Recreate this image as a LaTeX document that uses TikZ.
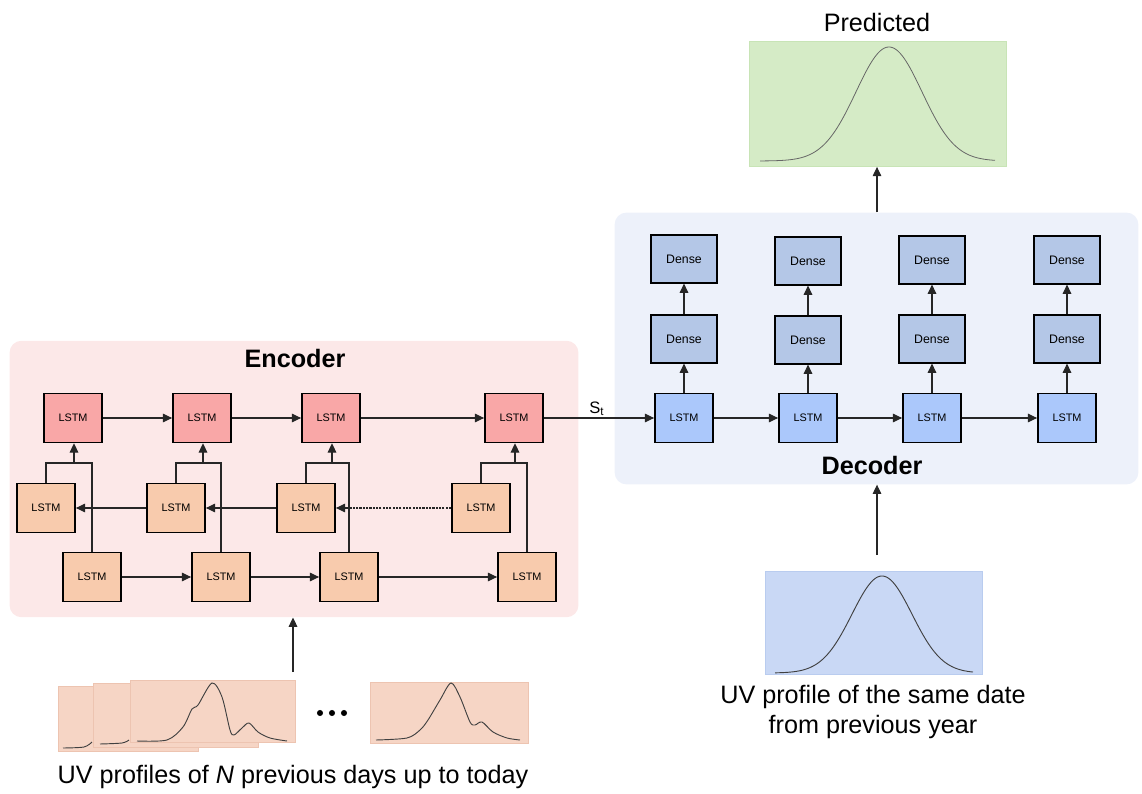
\documentclass[tikz,border=0pt]{standalone}
\usepackage{fontspec}
\setmainfont{Liberation Sans}
\usetikzlibrary{arrows.meta,backgrounds,positioning}
\definecolor{encbg}{HTML}{FCE8E8}
\definecolor{encred}{HTML}{F9A7A7}
\definecolor{encorange}{HTML}{F8CBAD}
\definecolor{decbg}{HTML}{EDF1FA}
\definecolor{declstm}{HTML}{ABC8FB}
\definecolor{densebl}{HTML}{B4C7E7}
\definecolor{predgreen}{HTML}{D5EBC6}
\definecolor{predline}{HTML}{C8E4B6}
\definecolor{samebl}{HTML}{C9D8F5}
\definecolor{sameline}{HTML}{B9CCEF}
\definecolor{cardfill}{HTML}{F6D5C5}
\definecolor{carddraw}{HTML}{EDC4B1}

\begin{document}
\begin{tikzpicture}[x=0.0265cm,y=-0.0265cm,
  >={Triangle[length=7pt,width=6.5pt]},
  panel/.style={rectangle,rounded corners=9pt,draw=none},
  lstm/.style={draw,line width=1.1pt,minimum width=44pt,minimum height=37pt,inner sep=0pt,font=\fontsize{8.2}{10}\selectfont},
  dense/.style={draw,line width=1.1pt,fill=densebl,minimum width=50pt,minimum height=36pt,inner sep=0pt,font=\fontsize{9.3}{11}\selectfont},
  link/.style={->,line width=0.8pt,draw=black!85},
  wire/.style={line width=0.8pt,draw=black!85},
  card/.style={fill=cardfill,draw=carddraw,line width=0.5pt},
  curve/.style={line width=0.7pt,draw=black!75},
  uvtext/.style={font=\fontsize{19}{23}\selectfont,align=center}
]
  \useasboundingbox (0,0) rectangle (1142,794);

  % encoder
  \node[lstm,fill=encred] (t1) at (73,418)  {LSTM};
  \node[lstm,fill=encred] (t2) at (202,418) {LSTM};
  \node[lstm,fill=encred] (t3) at (331,418) {LSTM};
  \node[lstm,fill=encred] (t4) at (514,418) {LSTM};
  \node[lstm,fill=encorange] (m1) at (46,508)  {LSTM};
  \node[lstm,fill=encorange] (m2) at (176,508) {LSTM};
  \node[lstm,fill=encorange] (m3) at (306,508) {LSTM};
  \node[lstm,fill=encorange] (m4) at (481,508) {LSTM};
  \node[lstm,fill=encorange] (b1) at (92,577)  {LSTM};
  \node[lstm,fill=encorange] (b2) at (221,577) {LSTM};
  \node[lstm,fill=encorange] (b3) at (349,577) {LSTM};
  \node[lstm,fill=encorange] (b4) at (527,577) {LSTM};
  \node[font=\bfseries\fontsize{19}{23}\selectfont] (enct) at (295,358) {Encoder};

  \draw[link] (t1) -- (t2);
  \draw[link] (t2) -- (t3);
  \draw[link] (t3) -- (t4);
  \draw[link] (m2) -- (m1);
  \draw[link] (m3) -- (m2);
  \draw[link,dash pattern=on 1.6pt off 0.9pt] (m4) -- (m3);
  \draw[link] (b1) -- (b2);
  \draw[link] (b2) -- (b3);
  \draw[link] (b3) -- (b4);

  \coordinate (j1) at (74,463);
  \coordinate (j2) at (203,463);
  \coordinate (j3) at (332,463);
  \coordinate (j4) at (515,463);
  \draw[wire] (m1.north) |- (j1);
  \draw[wire] (b1.north) |- (j1);
  \draw[link] (j1) -- (j1 |- t1.south);
  \draw[wire] (m2.north) |- (j2);
  \draw[wire] (b2.north) |- (j2);
  \draw[link] (j2) -- (j2 |- t2.south);
  \draw[wire] (m3.north) |- (j3);
  \draw[wire] (b3.north) |- (j3);
  \draw[link] (j3) -- (j3 |- t3.south);
  \draw[wire] (m4.north) |- (j4);
  \draw[wire] (b4.north) |- (j4);
  \draw[link] (j4) -- (j4 |- t4.south);

  % decoder
  \node[lstm,fill=declstm] (l1) at (684,418)  {LSTM};
  \node[lstm,fill=declstm] (l2) at (808,418)  {LSTM};
  \node[lstm,fill=declstm] (l3) at (932,418)  {LSTM};
  \node[lstm,fill=declstm] (l4) at (1067,418) {LSTM};
  \node[dense] (dm1) at (684,339)  {Dense};
  \node[dense] (dm2) at (808,340)  {Dense};
  \node[dense] (dm3) at (932,339)  {Dense};
  \node[dense] (dm4) at (1067,339) {Dense};
  \node[dense] (dt1) at (684,259)  {Dense};
  \node[dense] (dt2) at (808,261)  {Dense};
  \node[dense] (dt3) at (932,260)  {Dense};
  \node[dense] (dt4) at (1067,260) {Dense};
  \node[font=\bfseries\fontsize{19}{23}\selectfont] (dect) at (872,465) {Decoder};

  \draw[link] (t4) -- node[above,pos=0.48,font=\fontsize{12.5}{14}\selectfont,yshift=-2pt]{S\textsubscript{t}} (l1);
  \draw[link] (l1) -- (l2);
  \draw[link] (l2) -- (l3);
  \draw[link] (l3) -- (l4);
  \draw[link] (l1) -- (dm1);
  \draw[link] (l2) -- (dm2);
  \draw[link] (l3) -- (dm3);
  \draw[link] (l4) -- (dm4);
  \draw[link] (dm1) -- (dt1);
  \draw[link] (dm2) -- (dt2);
  \draw[link] (dm3) -- (dt3);
  \draw[link] (dm4) -- (dt4);

  \begin{scope}[on background layer]
    \node[panel,fill=encbg,minimum width=429pt,minimum height=208.5pt] (encp) at (294,479) {};
    \node[panel,fill=decbg,minimum width=395pt,minimum height=205pt] (decp) at (876.5,348.5) {};
  \end{scope}

  % predicted output
  \node[fill=predgreen,draw=predline,minimum width=194pt,minimum height=94.5pt] (pred) at (877.5,104) {};
  \node[uvtext] (predt) at (877,22) {Predicted};
  \draw[curve,draw=black!60,line width=0.6pt] plot[domain=760:995,samples=120] (\x,{161-114*exp(-((\x-889)/33)^2/2)});
  \draw[link] (decp.north -| 877,0) -- (pred.south -| 877,0);

  % same date last year
  \node[fill=samebl,draw=sameline,minimum width=163.5pt,minimum height=78pt] (same) at (874,623) {};
  \draw[curve] plot[domain=775:973,samples=120] (\x,{673-97*exp(-((\x-882)/30)^2/2)});
  \node[uvtext] (samet) at (873,712) {UV profile of the same date\\from previous year};
  \coordinate (samein) at (877,555);
  \draw[link] (samein) -- (samein |- decp.south);

  % input profiles
  \draw[card] (58,686) rectangle (198,751);
  \draw[curve] plot[smooth] coordinates {(63,748) (84,747) (92,742)};
  \draw[card] (93,683) rectangle (258,747);
  \draw[curve] plot[smooth] coordinates {(100,744) (122,743) (129,740)};
  \draw[card] (130,680) rectangle (295,742);
  \draw[curve] plot[smooth] coordinates {(137,741) (167,740) (183,727) (192,709) (198,705) (212,683) (222,697) (230,730) (234,735) (242,728) (249,723) (258,732) (270,738) (287,741)};
  \draw[card] (370,682) rectangle (528,743);
  \draw[curve] plot[smooth] coordinates {(376,740) (407,738) (420,730) (428,720) (440,700) (451,683) (460,697) (470,722) (475,725) (482,722) (493,732) (507,738) (520,740)};
  \fill (320,713) circle (2.3pt);
  \fill (332,713) circle (2.3pt);
  \fill (344,713) circle (2.3pt);
  \node[uvtext] (cardt) at (293,777) {UV profiles of \textit{N} previous days up to today};
  \coordinate (cardin) at (293,672);
  \draw[link] (cardin) -- (cardin |- encp.south);
\end{tikzpicture}
\end{document}
